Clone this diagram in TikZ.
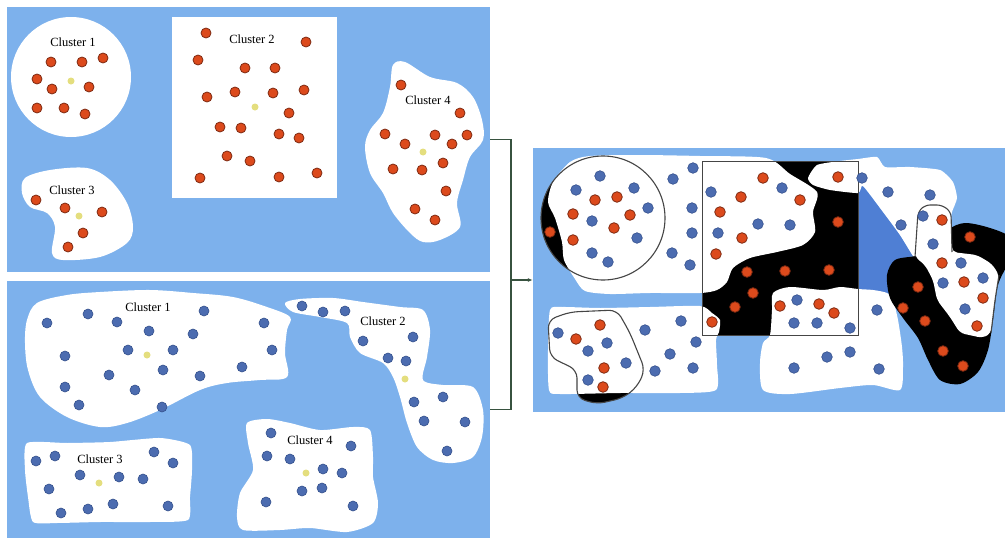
\documentclass[tikz,border=0pt]{standalone}
\usepackage{fontspec}
\setmainfont{Liberation Serif}
\usetikzlibrary{arrows.meta}
\definecolor{sea}{HTML}{7DB1EC}
\definecolor{deep}{HTML}{4F7FD4}
\definecolor{cRed}{HTML}{DC4A1C}
\definecolor{cRedEdge}{HTML}{7E2A12}
\definecolor{cBlue}{HTML}{4C6CB0}
\definecolor{cBlueEdge}{HTML}{34508C}
\definecolor{cMean}{HTML}{E4DE7E}
\definecolor{rim}{HTML}{454545}
\definecolor{brk}{HTML}{37523F}

\begin{document}
\begin{tikzpicture}[x=1pt,y=-1pt,
  panel/.style={fill=sea,draw=none,inner sep=0pt},
  lab/.style={font=\fontsize{12.5}{14}\selectfont,inner sep=0pt},
  rdot/.style={fill=cRed,draw=cRedEdge,line width=0.8pt},
  bdot/.style={fill=cBlue,draw=cBlueEdge,line width=0.6pt},
  mdot/.style={fill=cMean},
  rimline/.style={draw=rim,line width=1.1pt},
  isle/.style={fill=white,draw=none}]
  \useasboundingbox (0,0) rectangle (1005,538);
  % the three panels
  \node[panel,minimum width=483pt,minimum height=265pt] (top) at (248.5,139.5) {};
  \node[panel,minimum width=483pt,minimum height=257pt] (bot) at (248.5,409.5) {};
  \node[panel,minimum width=472pt,minimum height=264pt] (right) at (769,280) {};

  % ---- top panel: red clusters
  \fill[isle] (71,77) circle[radius=60pt];
  \fill[isle] (172,17) rectangle (337,198);
  \fill[isle] plot[smooth cycle,tension=0.55] coordinates {(25,178) (50,170) (87,168) (110,180) (127,203) (133,227) (127,243) (100,257) (63,260) (52,253) (55,227) (47,213) (30,207) (22,193)};
  \fill[isle] plot[smooth cycle,tension=0.55] coordinates {(393,65) (405,62) (430,77) (457,83) (473,97) (482,120) (483,140) (470,157) (463,180) (457,203) (460,227) (440,240) (423,242) (410,233) (393,213) (383,193) (370,173) (365,147) (370,130) (383,113) (390,87)};
  \node[lab] (tc1) at (73,42) {Cluster 1};
  \node[lab] (tc2) at (252,39) {Cluster 2};
  \node[lab] (tc3) at (72,190) {Cluster 3};
  \node[lab] (tc4) at (428,100) {Cluster 4};
  \foreach \x/\y in {51/62,82/62,103/58,37/79,52/89,89/87,37/108,64/108,85/114,
    206/33,306/42,198/60,245/68,275/68,207/97,235/92,273/93,304/90,289/113,220/127,241/128,279/134,299/138,227/156,250/161,200/178,279/177,317/173,
    36/200,65/208,102/212,83/233,68/247,
    401/85,460/113,385/134,405/144,435/135,452/144,467/135,393/169,422/170,443/163,446/191,415/209,435/220}
    \filldraw[rdot] (\x,\y) circle[radius=5pt];
  \foreach \x/\y in {71/81,255/107,79/216,423/152}
    \fill[mdot] (\x,\y) circle[radius=3.5pt];

  % ---- bottom panel: blue clusters
  \fill[isle] plot[smooth cycle,tension=0.55] coordinates {(37,303) (67,295) (100,292) (150,290) (193,293) (233,297) (267,307) (290,317) (287,330) (285,353) (287,377) (260,380) (227,383) (200,390) (160,410) (127,423) (100,427) (67,417) (40,397) (28,370) (25,343) (27,320)};
  \fill[isle] plot[smooth cycle,tension=0.5] coordinates {(285,303) (300,299) (333,298) (363,302) (400,307) (423,310) (430,330) (427,357) (423,380) (443,385) (473,387) (483,410) (482,437) (473,457) (453,463) (433,460) (417,447) (407,423) (400,397) (393,377) (383,363) (360,353) (350,337) (347,323) (320,317) (293,312)};
  \fill[isle] plot[smooth cycle,tension=0.35] coordinates {(27,443) (67,443) (110,442) (160,438) (190,445) (192,470) (190,497) (188,520) (150,522) (100,522) (57,523) (33,522) (28,497) (25,470)};
  \fill[isle] plot[smooth cycle,tension=0.45] coordinates {(247,423) (267,419) (290,423) (320,430) (353,427) (370,430) (373,457) (373,477) (378,503) (373,523) (347,532) (310,528) (280,530) (243,530) (237,517) (240,493) (253,470) (248,443)};
  \node[lab] (bc1) at (148,307) {Cluster 1};
  \node[lab] (bc2) at (383,321) {Cluster 2};
  \node[lab] (bc3) at (100,459) {Cluster 3};
  \node[lab] (bc4) at (310,440) {Cluster 4};
  \foreach \x/\y in {47/323,88/314,117/322,149/331,204/311,193/334,264/323,65/356,128/350,173/350,272/350,163/370,109/375,200/376,242/367,65/387,135/390,79/405,162/407,
    302/306,323/312,345/311,363/341,413/337,388/358,406/361,414/402,443/397,424/421,465/422,447/451,
    36/461,55/456,154/452,173/463,80/475,119/477,143/479,49/489,61/513,88/509,113/504,168/506,
    271/433,351/446,267/456,290/459,323/469,342/473,302/491,322/488,266/502,353/506}
    \filldraw[bdot] (\x,\y) circle[radius=5pt];
  \foreach \x/\y in {147/355,405/379,99/483,306/473}
    \fill[mdot] (\x,\y) circle[radius=3.5pt];

  % ---- right panel: both clusterings laid over each other
  \begin{scope}
    \clip (right.north west) rectangle (right.south east);
    \fill[black] (603,218) circle[radius=62pt];
    \fill[black] (702,161) rectangle (858,335);
    \fill[black,rounded corners=8pt] (548,320) -- (570,312) -- (617,310) -- (630,333) -- (645,370) -- (637,387) -- (623,398) -- (597,404) -- (577,398) -- (577,370) -- (550,357) -- cycle;
    \fill[deep] (858,186) -- (863,186) -- (883,212) -- (900,235) -- (913,256) -- (898,259) -- (889,270) -- (888,285) -- (890,293) -- (858,293) -- cycle;
    \fill[isle] plot[smooth cycle,tension=0.45] coordinates {(590,156) (640,155) (700,156) (766,158) (790,174) (817,192) (813,212) (815,232) (803,245) (777,252) (750,258) (733,268) (727,282) (717,290) (700,293) (650,293) (610,294) (585,291) (575,279) (564,260) (562,242) (555,218) (548,202) (553,182) (570,162)};
    \fill[isle] plot[smooth cycle,tension=0.4] coordinates {(550,310) (562,307) (600,308) (650,307) (700,306) (712,313) (720,320) (719,332) (716,340) (717,365) (716,390) (680,393) (620,393) (560,394) (549,390) (548,350)};
    \fill[isle] plot[smooth cycle,tension=0.45] coordinates {(773,293) (790,287) (823,290) (840,287) (858,289) (873,290) (887,293) (893,300) (898,320) (902,347) (903,367) (900,390) (873,385) (840,388) (790,394) (763,390) (760,363) (763,343) (770,335) (772,310)};
    \fill[isle] plot[smooth cycle,tension=0.35] coordinates {(808,178) (817,165) (840,161) (858,159) (877,157) (885,167) (910,167) (940,170) (953,182) (957,198) (952,212) (950,225) (950,255) (917,258) (913,256) (900,235) (883,212) (863,186) (858,193) (830,190) (813,185)};
    \fill[black] plot[smooth cycle,tension=0.5] coordinates {(948,230) (965,223) (990,228) (1010,238) (1008,262) (998,285) (993,320) (988,350) (978,372) (960,384) (940,380) (928,360) (918,338) (903,318) (890,298) (887,275) (895,260) (915,256) (935,250)};
    \fill[isle,rounded corners=5pt] (915,257) -- (918,212) -- (925,205) -- (942,205) -- (951,212) -- (952,252) -- (977,255) -- (992,264) -- (999,275) -- (995,300) -- (991,333) -- (983,338) -- (960,333) -- (950,317) -- (937,300) -- (933,280) -- (925,265) -- cycle;
  \end{scope}
  % outlines of the first clustering
  \draw[rimline] (603,218) circle[radius=62pt];
  \draw[rimline,line width=0.9pt] (702,161) rectangle (858,335);
  \draw[rimline,rounded corners=8pt] (548,320) -- (570,312) -- (617,310) -- (630,333) -- (645,370) -- (637,387) -- (623,398) -- (597,404) -- (577,398) -- (577,370) -- (550,357) -- cycle;
  \draw[rimline,rounded corners=5pt] (915,257) -- (918,212) -- (925,205) -- (942,205) -- (951,212) -- (952,252);
  \draw[rimline,rounded corners=5pt] (999,275) -- (995,300) -- (991,333);
  \foreach \x/\y in {600/176,576/190,634/188,648/208,592/221,637/238,592/253,608/262,673/179,693/168,692/208,692/233,672/253,690/265,
    558/333,588/351,607/343,626/363,588/380,645/330,681/321,670/354,655/371,696/342,693/368,
    711/192,782/188,758/224,790/225,718/233,
    797/300,794/323,817/323,850/328,827/357,850/352,794/368,
    862/178,888/192,930/195,901/225,923/216,933/244,961/263,943/283,983/278,965/309,877/310,879/369}
    \filldraw[bdot] (\x,\y) circle[radius=5.3pt];
  \foreach \x/\y in {595/200,617/197,573/214,630/215,614/228,573/240,550/232,
    600/325,576/339,604/368,603/387,
    763/178,741/197,800/200,720/212,742/238,716/254,838/222,747/272,785/271,829/270,838/177,
    753/293,735/307,712/322,780/306,819/304,834/313,
    942/220,970/237,942/263,964/282,983/298,977/326,918/287,903/308,925/321,943/351,963/366}
    \filldraw[rdot] (\x,\y) circle[radius=5.3pt];

  % bracket joining the two clusterings
  \coordinate (jn) at (511,280);
  \draw[brk,line width=1.1pt] (top.east) -| (jn) |- (bot.east);
  \draw[brk,line width=1.1pt,-{Latex[length=5pt,width=4pt]}] (jn) -- (right.west);
\end{tikzpicture}
\end{document}
